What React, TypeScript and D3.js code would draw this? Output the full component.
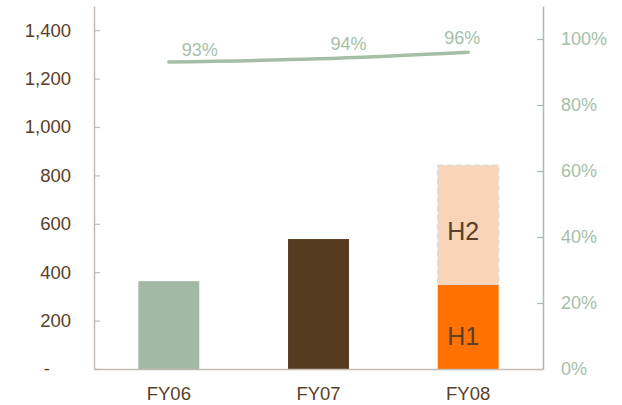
import React, { useEffect, useRef } from "react";
import * as d3 from "d3";

const years = ["FY06", "FY07", "FY08"];
const totals = [363, 537, 0];
const h1Values = [0, 0, 347];
const h2Values = [0, 0, 495];
const ratios = [0.93, 0.94, 0.96];
const ratioLabels = ["93%", "94%", "96%"];
const leftTicks = [0, 200, 400, 600, 800, 1000, 1200, 1400];
const rightTicks = [0, 0.2, 0.4, 0.6, 0.8, 1.0];

const barColors = ["#a2b9a3", "#543a1e", "#ff7100"];
const h2Color = "#f8d4b9";
const green = "#a6bea8";
const brown = "#5a4026";
const font = "'Liberation Sans', Arial, sans-serif";

// label nudges
const labelOffsets = [
  [13, -6],
  [12, -9],
  [-24, -8],
];

const width = 622;
const height = 405;
const margin = { top: 6, bottom: 36, left: 94, right: 79 };

const App = () => {
  const ref = useRef<SVGGElement>(null);

  const y = d3
    .scaleLinear()
    .domain([0, 1500])
    .range([height - margin.bottom, margin.top]);

  useEffect(() => {
    const svg = d3.select(ref.current);
    svg.selectAll("*").remove();

    const x = d3
      .scaleBand()
      .domain(years)
      .range([margin.left, width - margin.right])
      .paddingInner(0.593)
      .paddingOuter(0.2965);
    const yPct = d3
      .scaleLinear()
      .domain([0, 1.1])
      .range([height - margin.bottom, margin.top]);

    // bars
    const plain = years.map((d, i) => ({ key: d, v: totals[i], i })).filter((d) => d.v > 0);
    svg
      .selectAll(".bar")
      .data(plain)
      .enter()
      .append("rect")
      .attr("class", "bar")
      .attr("x", (d) => x(d.key)!)
      .attr("width", x.bandwidth())
      .attr("y", (d) => y(d.v))
      .attr("height", (d) => y(0) - y(d.v))
      .attr("fill", (d) => barColors[d.i]);

    const split = years
      .map((d, i) => ({ key: d, h1: h1Values[i], h2: h2Values[i] }))
      .filter((d) => d.h1 > 0);

    split.forEach((d) => {
      const bx = x(d.key)!;
      svg
        .append("rect")
        .attr("x", bx)
        .attr("width", x.bandwidth())
        .attr("y", y(d.h1 + d.h2))
        .attr("height", y(d.h1) - y(d.h1 + d.h2))
        .attr("fill", h2Color)
        .attr("stroke", "#dcdcdc")
        .attr("stroke-width", 1.5)
        .attr("stroke-dasharray", "6,3");
      svg
        .append("rect")
        .attr("x", bx)
        .attr("width", x.bandwidth())
        .attr("y", y(d.h1))
        .attr("height", y(0) - y(d.h1))
        .attr("fill", barColors[2]);

      const cx = bx + x.bandwidth() / 2 - 5;
      svg
        .append("text")
        .attr("x", cx)
        .attr("y", (y(d.h1) + y(d.h1 + d.h2)) / 2 + 15)
        .attr("text-anchor", "middle")
        .attr("font-size", 25)
        .attr("font-family", font)
        .attr("fill", brown)
        .text("H2");
      svg
        .append("text")
        .attr("x", cx)
        .attr("y", (y(0) + y(d.h1)) / 2 + 18)
        .attr("text-anchor", "middle")
        .attr("font-size", 25)
        .attr("font-family", font)
        .attr("fill", brown)
        .text("H1");
    });

    // left axis (zero label is drawn separately as a dash)
    const leftAxis = svg
      .append("g")
      .attr("transform", `translate(${margin.left},0)`)
      .call(
        d3
          .axisLeft(y)
          .tickValues(leftTicks)
          .tickSizeInner(-6)
          .tickSizeOuter(0)
          .tickPadding(23)
          .tickFormat((d) => (+d === 0 ? "" : d3.format(",")(d as number)))
      );
    leftAxis.select(".domain").attr("stroke", "#c4bcb4").attr("stroke-width", 1.5);
    leftAxis.selectAll(".tick line").attr("stroke", "#c4bcb4").attr("stroke-width", 1.2);
    leftAxis
      .selectAll(".tick text")
      .attr("font-size", 18.5)
      .attr("font-family", font)
      .attr("fill", brown);

    // right axis
    const rightAxis = svg
      .append("g")
      .attr("transform", `translate(${width - margin.right},0)`)
      .call(
        d3
          .axisRight(yPct)
          .tickValues(rightTicks)
          .tickSizeInner(-6)
          .tickSizeOuter(0)
          .tickPadding(18)
          .tickFormat(d3.format(".0%"))
      );
    rightAxis.select(".domain").attr("stroke", green).attr("stroke-width", 1.5);
    rightAxis.selectAll(".tick line").attr("stroke", green).attr("stroke-width", 1.2);
    rightAxis
      .selectAll(".tick text")
      .attr("font-size", 18)
      .attr("font-family", font)
      .attr("fill", green);

    // bottom axis
    const bottomAxis = svg
      .append("g")
      .attr("transform", `translate(0,${height - margin.bottom})`)
      .call(d3.axisBottom(x).tickSize(0).tickPadding(18));
    bottomAxis.select(".domain").attr("stroke", "#c4bcb4").attr("stroke-width", 1.5);
    bottomAxis
      .selectAll(".tick text")
      .attr("font-size", 18.5)
      .attr("font-family", font)
      .attr("fill", brown);

    // ratio line
    const pts = years.map((d, i) => [x(d)! + x.bandwidth() / 2, yPct(ratios[i])] as [number, number]);
    svg
      .append("path")
      .attr("d", d3.line().curve(d3.curveMonotoneX)(pts))
      .attr("fill", "none")
      .attr("stroke", green)
      .attr("stroke-width", 3.5)
      .attr("stroke-linecap", "round");

    svg
      .selectAll(".ratioLabel")
      .data(ratioLabels)
      .enter()
      .append("text")
      .attr("class", "ratioLabel")
      .attr("x", (d, i) => pts[i][0] + labelOffsets[i][0])
      .attr("y", (d, i) => pts[i][1] + labelOffsets[i][1])
      .attr("font-size", 18)
      .attr("font-family", font)
      .attr("fill", green)
      .text((d) => d);
  }, []);

  return (
    <svg
      width={width}
      height={height}
      style={{ position: "absolute", left: 0, top: 0, background: "#fff" }}
    >
      <g ref={ref}></g>
      <text
        x={margin.left - 44}
        y={y(0)}
        dy="0.32em"
        textAnchor="end"
        fontSize={18.5}
        fontFamily={font}
        fill={brown}
      >
        -
      </text>
    </svg>
  );
};

export default App;
